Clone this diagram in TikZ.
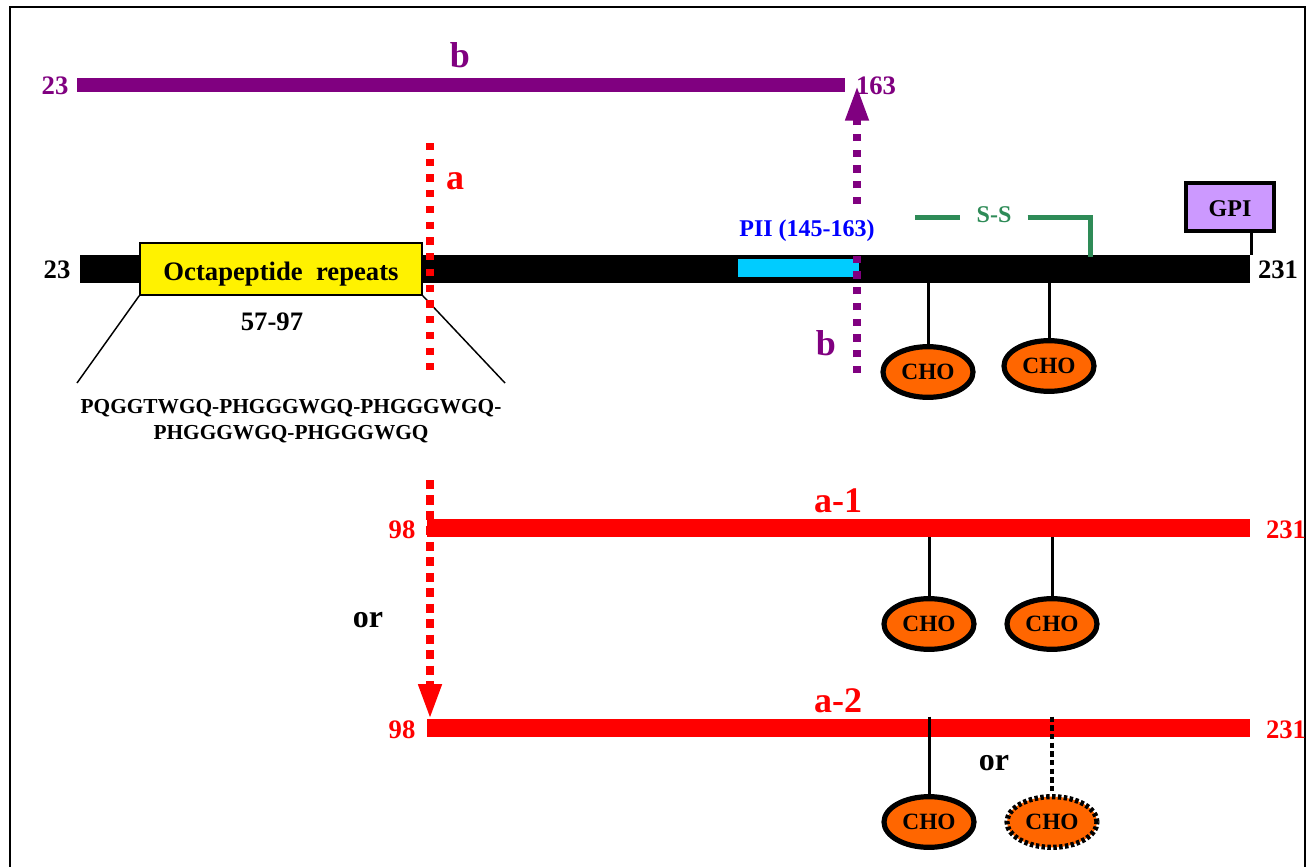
\documentclass[tikz,border=0pt]{standalone}
\usepackage{fontspec}
\setmainfont{Liberation Serif}
\usetikzlibrary{arrows.meta,shapes.geometric}
\definecolor{prp}{RGB}{128,0,128}
\definecolor{rd}{RGB}{255,0,0}
\definecolor{org}{RGB}{255,102,0}
\definecolor{cyn}{RGB}{0,204,255}
\definecolor{lav}{RGB}{204,153,255}
\definecolor{grn}{RGB}{46,139,87}
\definecolor{blu}{RGB}{0,0,255}
\newcommand{\fsz}[1]{\bfseries\fontsize{#1}{#1}\selectfont}
\begin{document}
\begin{tikzpicture}[x=0.75pt,y=-0.75pt,
  lbl/.style={inner sep=0pt, anchor=base, font=\fsz{20}},
  barbox/.style={rectangle, inner sep=0pt, draw=none},
  cho/.style={ellipse, draw=black, line width=3.9pt, fill=org, minimum width=67.5pt,
    minimum height=38pt, inner sep=0pt, font=\fsz{17.5}},
  chodot/.style={cho, dash pattern=on 2.6pt off 1.8pt},
  stalk/.style={line width=2.25pt},
  dotline/.style={line width=5.6pt, dash pattern=on 5.4pt off 6.4pt},
  dashline/.style={line width=5.6pt, dash pattern=on 6.8pt off 4.8pt},
  bigtip/.style={-{Triangle[width=16.5pt,length=26pt]}}
]
\useasboundingbox (0,0) rectangle (1311,867);
% frame
\draw[line width=1.2pt] (10,867) -- (10,7) -- (1305,7) -- (1305,867);

% ---- top purple fragment b
\node[barbox, fill=prp, minimum width=576pt, minimum height=10.5pt] (bbar) at (461,85) {};
\node[lbl, prp] (b23) at (55,95) {23};
\node[lbl, prp] (b163) at (876,95) {163};
\node[lbl, prp, font=\fsz{27}] (btop) at (460,68) {b};

% ---- main protein bar
\node[barbox, fill=black, minimum width=877.5pt, minimum height=21pt] (main) at (665,269) {};
\node[barbox, fill=cyn, minimum width=90.75pt, minimum height=13.5pt] (pii) at (798,268) {};
\node[rectangle, draw=black, line width=1.2pt, fill=yellow, minimum width=211.5pt,
      minimum height=39pt, inner sep=0pt] (octa) at (281,269) {};
\node[lbl] (octatxt) at (281,280) {Octapeptide\ \ repeats};
\node[lbl] (m23) at (57,278) {23};
\node[lbl] (m231) at (1278,278) {231};
\node[lbl] (r5797) at (272,330) {57-97};
\node[lbl, font=\fsz{16}] (seq1) at (291,413) {PQGGTWGQ-PHGGGWGQ-PHGGGWGQ-};
\node[lbl, font=\fsz{16}] (seq2) at (291,439) {PHGGGWGQ-PHGGGWGQ};
\coordinate (sl) at (77,383);
\coordinate (sr) at (505,383);
\draw[line width=1.1pt] (octa.south west) -- (sl);
\draw[line width=1.1pt] (octa.south east) -- (sr);

% PII label
\node[lbl, blu, font=\fsz{18}] (piitxt) at (807,236) {PII (145-163)};

% S-S bond
\node[lbl, grn, font=\fsz{18}, inner xsep=12pt] (ss) at (994,222) {S-S};
\coordinate (ssL) at (915,217);
\coordinate (ssR) at (1090,217);
\draw[grn, line width=3.75pt] (ssL) -- (ss.west |- ssL);
\draw[grn, line width=3.75pt] (ss.east |- ssR) -- (ssR) -- ([yshift=-2pt]ssR |- main.north);

% GPI
\node[rectangle, draw=black, line width=3pt, fill=lav, minimum width=66pt, minimum height=36.5pt,
      inner sep=0pt] (gpi) at (1230,207) {};
\node[lbl, font=\fsz{18}] (gpitxt) at (1230,216) {GPI};
\coordinate (gpiS) at (1251,233);
\draw[stalk] (gpiS) -- (gpiS |- main.north);

% CHO on main
\node[cho] (c1) at (928,372) {CHO};
\node[cho] (c2) at (1049,366) {CHO};
\draw[stalk] (c1.north |- main.south) -- (c1.north);
\draw[stalk] (c2.north |- main.south) -- (c2.north);

% cleavage a
\coordinate (aTop) at (430,143);
\coordinate (aBot) at (430,372);
\draw[rd, dotline] (aTop) -- (aBot);
\node[lbl, rd, font=\fsz{27}] (alab) at (455,190) {a};

% cleavage b
\coordinate (bBot) at (857,373);
\coordinate (bMid) at (857,255);
\coordinate (bGap) at (857,204);
\coordinate (bTip) at (857,86);
\draw[prp, dotline] (bBot) -- (bMid);
\draw[prp, dotline, bigtip] (bGap) -- (bTip);
\node[lbl, prp, font=\fsz{27}] (blab) at (826,355) {b};

% ---- a-1 fragment
\node[barbox, fill=rd, minimum width=617.25pt, minimum height=13.5pt] (a1) at (838.5,528) {};
\node[lbl, rd] (a198) at (402,538) {98};
\node[lbl, rd] (a1231) at (1286,538) {231};
\node[lbl, rd, font=\fsz{27}] (a1lab) at (838,512) {a-1};
\node[cho] (c3) at (929,624) {CHO};
\node[cho] (c4) at (1052,624) {CHO};
\draw[stalk] (c3.north |- a1.south) -- (c3.north);
\draw[stalk] (c4.north |- a1.south) -- (c4.north);

% arrow a -> a-2
\coordinate (arTop) at (430,480);
\node[barbox, fill=rd, minimum width=617.25pt, minimum height=13.5pt] (a2) at (838.5,728) {};
\draw[rd, dashline, bigtip] (arTop) -- (arTop |- a2.north);
\node[lbl, font=\fsz{24}] (or1) at (368,627) {or};

% ---- a-2 fragment
\node[lbl, rd] (a298) at (402,738) {98};
\node[lbl, rd] (a2231) at (1286,738) {231};
\node[lbl, rd, font=\fsz{27}] (a2lab) at (838,712) {a-2};
\node[cho] (c5) at (929,822) {CHO};
\node[chodot] (c6) at (1052,822) {CHO};
\draw[stalk] ([yshift=1.5pt]c5.north |- a2.north) -- (c5.north);
\draw[line width=2.4pt, dash pattern=on 4pt off 2.5pt] ([yshift=1.5pt]c6.north |- a2.north) -- (c6.north);
\node[lbl, font=\fsz{24}] (or2) at (994,770) {or};
\end{tikzpicture}
\end{document}
